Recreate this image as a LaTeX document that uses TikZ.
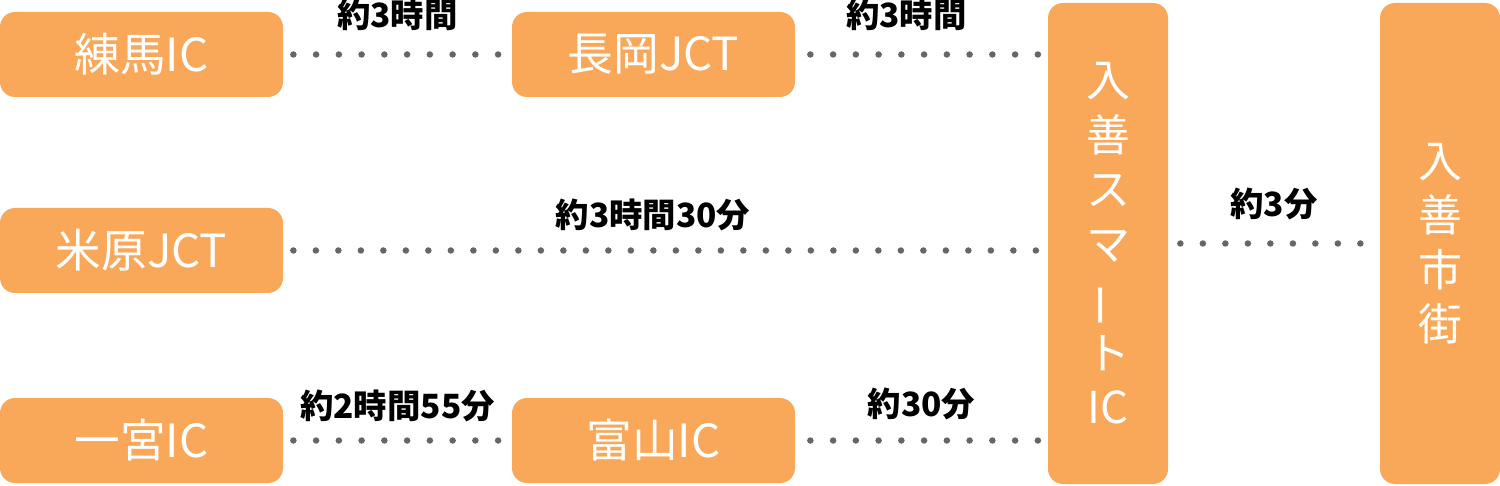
\documentclass[tikz,border=0pt]{standalone}
\usepackage{fontspec}
\setmainfont{Noto Sans CJK JP}
\usepackage{graphicx}
\definecolor{boxorange}{HTML}{F9A85A}
\definecolor{dotgray}{HTML}{666666}

\begin{document}
\begin{tikzpicture}[
    box/.style={fill=boxorange, rounded corners=0.3cm, minimum width=5.66cm,
      minimum height=1.70cm, inner sep=0pt, text=white,
      font=\fontsize{26}{28}\selectfont},
    tallbox/.style={box, minimum width=2.40cm, minimum height=9.62cm,
      align=center, font=\fontsize{25}{31}\selectfont},
    dots/.style={draw=dotgray, line width=0.13cm, line cap=round,
      dash pattern=on 0pt off #1},
    dots/.default=0.455cm,
    lbl/.style={text=black, font=\fontsize{19}{21}\selectfont\bfseries, inner sep=0pt}
  ]
      \useasboundingbox (0,0) rectangle (30,9.7);

      \node[box] (nerima)  at (2.83, 8.61) {練馬IC};
      \node[box] (nagaoka) at (13.07, 8.61) {長岡JCT};
      \node[box] (maibara) at (2.83, 4.69) {米原JCT};
      \node[box] (ichinomiya) at (2.83, 0.89) {一宮IC};
      \node[box] (toyama)  at (13.07, 0.89) {富山IC};

      \node[tallbox] (smartic) at (22.16, 4.83)
            {入\\善\\ス\\マ\\\rotatebox[origin=c]{90}{ー}\\ト\\IC};
      \node[tallbox] (town) at (28.80, 4.83) {入\\善\\市\\街};

      \draw[dots, shorten <=0.2cm, shorten >=0.24cm] (nerima.east)
            -- node[lbl, above=0.42cm] {約3時間} (nagaoka.west);
      \draw[dots, shorten <=0.3cm, shorten >=0.16cm] (nagaoka.east)
            -- node[lbl, above=0.42cm, xshift=-0.3cm] {約3時間} (nagaoka.east -| smartic.west);
      \draw[dots=0.45cm, shorten <=0.2cm, shorten >=0.16cm] (maibara.east)
            -- node[lbl, above=0.32cm, xshift=-0.25cm] {約3時間30分} (maibara.east -| smartic.west);
      \draw[dots, shorten <=0.2cm, shorten >=0.24cm] (ichinomiya.east)
            -- node[lbl, above=0.3cm] {約2時間55分} (toyama.west);
      \draw[dots, shorten <=0.3cm, shorten >=0.16cm] (toyama.east)
            -- node[lbl, above=0.34cm] {約30分} (toyama.east -| smartic.west);
      \draw[dots=0.45cm, shorten <=0.24cm, shorten >=0.36cm] (smartic.east)
            -- node[lbl, above=0.4cm] {約3分} (town.west);
\end{tikzpicture}
\end{document}
